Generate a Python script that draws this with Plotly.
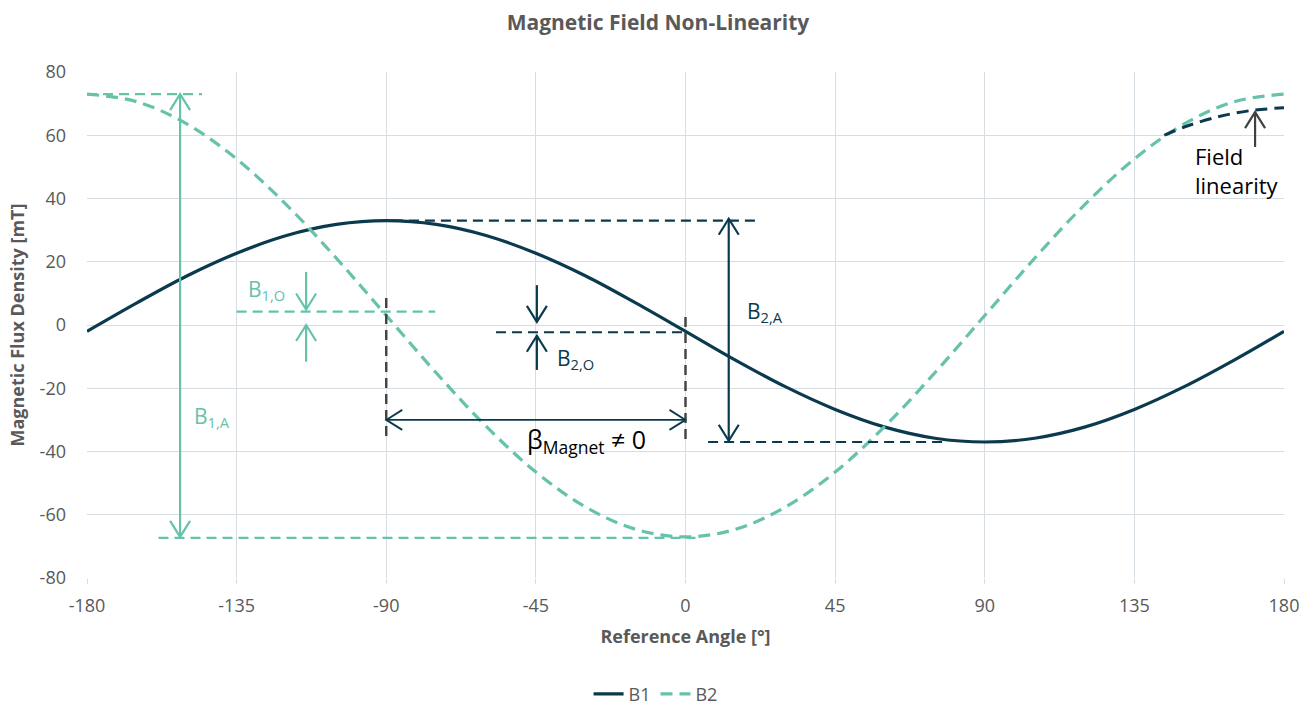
import plotly.graph_objects as go

# ---------------- data ----------------
angle = [-180, -165, -150, -135, -120, -105, -90, -75, -60, -45, -30, -15, 0,
         15, 30, 45, 60, 75, 90, 105, 120, 135, 150, 165, 180]
b1 = [-2, 7, 15.5, 22.7, 28.3, 31.8, 33, 31.8, 28.3, 22.7, 15.5, 7, -2,
      -11.1, -19.5, -26.7, -32.3, -35.8, -37, -35.8, -32.3, -26.7, -19.5, -11.1, -2]
b2 = [73, 70.6, 63.6, 52.5, 38, 21.1, 3, -15.1, -32, -46.5, -57.6, -64.6, -67,
      -64.6, -57.6, -46.5, -32, -15.1, 3, 21.1, 38, 52.5, 63.6, 70.6, 73]
lin_angle = [144, 150, 160, 170, 180]
lin_val = [60, 62.6, 65.8, 67.8, 68.7]

x_ticks = [-180, -135, -90, -45, 0, 45, 90, 135, 180]
x_tick_text = ["-180", "-135", "-90", "-45", "0", "45", "90", "135", "180"]
y_ticks = [-80, -60, -40, -20, 0, 20, 40, 60, 80]
y_tick_text = ["-80", "-60", "-40", "-20", "0", "20", "40", "60", "80"]

NAVY = "#0b3a4e"
TEAL = "#66c2aa"
GRAY = "#404040"
GRID = "#d6dee3"
TXT = "#595959"
FONT = "Open Sans"

W, H = 1316, 714
ML, MR, MT, MB = 87, 32, 72, 136
X0, X1, Y0, Y1 = -180, 180, -80, 80
SX = (W - ML - MR) / (X1 - X0)
SY = (H - MT - MB) / (Y1 - Y0)

fig = go.Figure()
fig.add_trace(go.Scatter(x=angle, y=b1, name="B1", mode="lines", line_shape="spline",
                         line=dict(color=NAVY, width=3.2)))
fig.add_trace(go.Scatter(x=angle, y=b2, name="B2", mode="lines", line_shape="spline",
                         line=dict(color=TEAL, width=3.2, dash="12px,7px")))
fig.add_trace(go.Scatter(x=lin_angle, y=lin_val, name="Field linearity", mode="lines",
                         line_shape="spline", showlegend=False,
                         line=dict(color=NAVY, width=3, dash="12px,7px")))

shapes = []


def seg(xa, ya, xb, yb, color, width=2, dash=None):
    line = dict(color=color, width=width)
    if dash:
        line["dash"] = dash
    shapes.append(dict(type="line", xref="x", yref="y", x0=xa, y0=ya, x1=xb, y1=yb,
                       line=line, layer="above"))


def head(xt, yt, xf, yf, color, width=2, L=16, Wd=10):
    # open V arrowhead at tip (xt,yt), line coming from (xf,yf)
    dxp = (xt - xf) * SX
    dyp = (yt - yf) * SY
    n = (dxp ** 2 + dyp ** 2) ** 0.5
    ux, uy = dxp / n, dyp / n
    px, py = -uy, ux
    ax = xt + (-L * ux + Wd * px) / SX
    ay = yt + (-L * uy + Wd * py) / SY
    bx = xt + (-L * ux - Wd * px) / SX
    by = yt + (-L * uy - Wd * py) / SY
    shapes.append(dict(type="path", xref="x", yref="y",
                       path=f"M {ax} {ay} L {xt} {yt} L {bx} {by}",
                       line=dict(color=color, width=width), layer="above"))


def arrow(xa, ya, xb, yb, color, width=2, start=False, end=True):
    seg(xa, ya, xb, yb, color, width)
    if end:
        head(xb, yb, xa, ya, color, width)
    if start:
        head(xa, ya, xb, yb, color, width)


# B1 amplitude
seg(-180, 73, -145.4, 73, TEAL, 2.2, "10px,6px")
seg(-158.5, -67.3, 3, -67.3, TEAL, 2.2, "10px,6px")
arrow(-152, 73, -152, -67, TEAL, 2.2, start=True, end=True)
# B1 offset
seg(-135, 4.2, -75.3, 4.2, TEAL, 2.2, "10px,6px")
arrow(-114.1, 16.8, -114.1, 4.9, TEAL, 2.2)
arrow(-114.1, -11.6, -114.1, 0.0, TEAL, 2.2)
# beta magnet
seg(-90, 8.5, -90, -36.5, GRAY, 2.4, "10px,6px")
seg(0, 2.5, 0, -36.5, GRAY, 2.4, "10px,6px")
arrow(-90, -30, 0, -30, NAVY, 1.8, start=True, end=True)
# B2 offset
seg(-57, -2.3, 0, -2.3, NAVY, 2.2, "10px,6px")
arrow(-44.7, 12.6, -44.7, 1.0, NAVY, 2.2)
arrow(-44.7, -14.2, -44.7, -3.4, NAVY, 2.2)
# B2 amplitude
seg(-88, 33, 21.8, 33, NAVY, 2.2, "10px,6px")
seg(6.8, -37, 77.5, -37, NAVY, 2.2, "10px,6px")
arrow(13, 33.6, 13, -36.6, NAVY, 2.2, start=True, end=True)
# field linearity arrow
arrow(171.3, 56.3, 171.3, 67.3, GRAY, 2.2)

annotations = [
    dict(x=-148.4, y=-29, text="B<sub>1,A</sub>", font=dict(color=TEAL, size=21)),
    dict(x=-132.2, y=11, text="B<sub>1,O</sub>", font=dict(color=TEAL, size=21)),
    dict(x=-39.2, y=-10.8, text="B<sub>2,O</sub>", font=dict(color=NAVY, size=21)),
    dict(x=17.9, y=4, text="B<sub>2,A</sub>", font=dict(color=NAVY, size=21)),
    dict(x=-48.3, y=-36.4, text="β<sub>Magnet</sub> ≠ 0", font=dict(color="#000000", size=25)),
    dict(x=152.6, y=49, text="Field<br>linearity", font=dict(color="#000000", size=22),
         align="left"),
]
for a in annotations:
    a.update(xref="x", yref="y", showarrow=False, xanchor="left", yanchor="middle")
    a["font"]["family"] = FONT

fig.update_layout(
    width=W, height=H,
    margin=dict(l=ML, r=MR, t=MT, b=MB, autoexpand=False),
    paper_bgcolor="white", plot_bgcolor="white",
    font=dict(family=FONT, color=TXT),
    title=dict(text="<b>Magnetic Field Non-Linearity</b>", x=0.5, xanchor="center",
               y=1 - 23 / H, yanchor="middle", font=dict(size=21, color=TXT, family=FONT)),
    shapes=shapes,
    annotations=annotations,
    legend=dict(orientation="h", x=0.475, xanchor="center", y=-0.266,
                yanchor="bottom", font=dict(size=18, color=TXT)),
    xaxis=dict(range=[X0, X1], tickmode="array", tickvals=x_ticks, ticktext=x_tick_text,
               showgrid=True, gridcolor=GRID, gridwidth=1.3, zeroline=False, showline=False,
               ticks="outside", ticklen=5, tickcolor=GRID, tickwidth=1.3,
               ticklabelstandoff=6, tickfont=dict(size=18, color=TXT),
               title=dict(text="<b>Reference Angle [°]</b>", font=dict(size=18, color=TXT),
                          standoff=14)),
    yaxis=dict(range=[Y0, Y1], tickmode="array", tickvals=y_ticks, ticktext=y_tick_text,
               showgrid=True, gridcolor=GRID, gridwidth=1.3, zeroline=False, showline=False,
               ticklabelstandoff=20, tickfont=dict(size=18, color=TXT),
               title=dict(text="<b>Magnetic Flux Density [mT]</b>", font=dict(size=18, color=TXT),
                          standoff=10)),
)

fig.write_html("out.html")
